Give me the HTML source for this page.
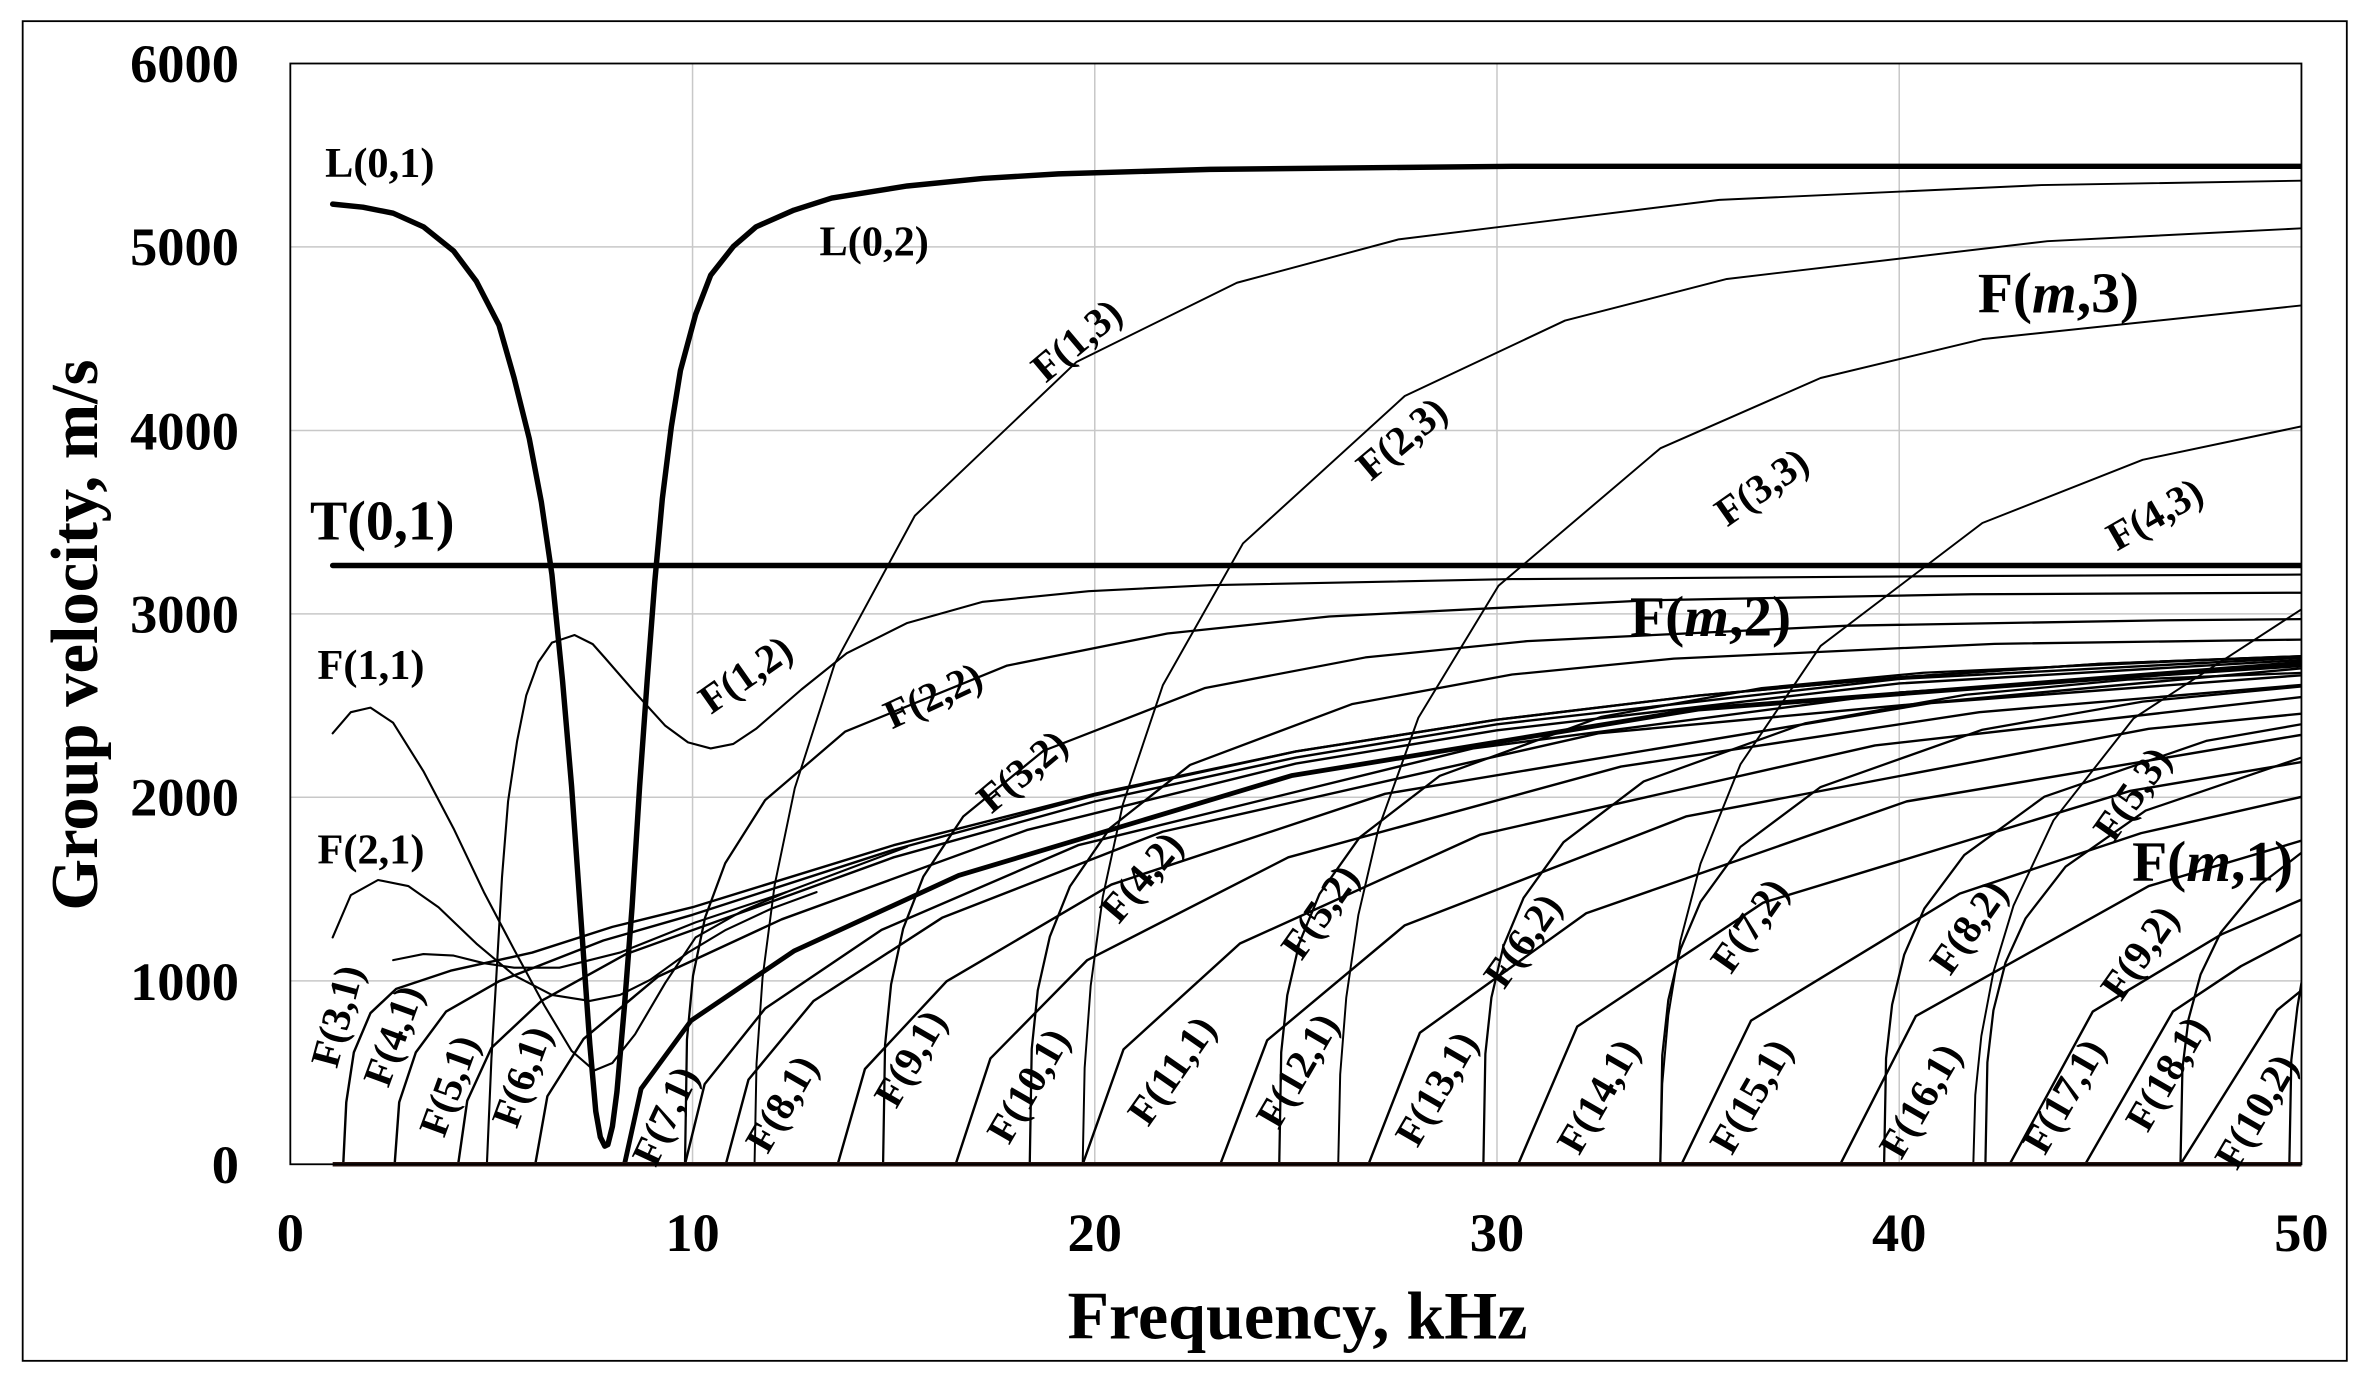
<!DOCTYPE html>
<html><head><meta charset="utf-8"><style>
html,body{margin:0;padding:0;background:#fff;}
svg{display:block}
text{font-family:"Liberation Serif",serif;font-weight:bold;fill:#000}
polyline{fill:none;stroke:#000;stroke-linejoin:round;stroke-linecap:round}
</style></head><body>
<svg width="2371" height="1382" viewBox="0 0 1568 914" preserveAspectRatio="none" xmlns="http://www.w3.org/2000/svg">
<rect x="0" y="0" width="1568" height="914" fill="#fff"/>
<rect x="15" y="14" width="1537" height="886" fill="none" stroke="#000" stroke-width="1.2"/>
<g stroke="#c8c8c8" stroke-width="1">
<line x1="458" y1="42" x2="458" y2="770"/><line x1="724" y1="42" x2="724" y2="770"/><line x1="990" y1="42" x2="990" y2="770"/><line x1="1256" y1="42" x2="1256" y2="770"/>
<line x1="192" y1="163.3" x2="1522" y2="163.3"/><line x1="192" y1="284.7" x2="1522" y2="284.7"/><line x1="192" y1="406" x2="1522" y2="406"/><line x1="192" y1="527.3" x2="1522" y2="527.3"/><line x1="192" y1="648.7" x2="1522" y2="648.7"/>
</g>
<defs><clipPath id="cp"><rect x="192" y="42" width="1330" height="728"/></clipPath></defs>
<g clip-path="url(#cp)">
<g stroke-width="1.6">
<polyline points="227,770 229,729 234,696 245,670 262,654 298,642 352,630 405,613 458,600 591,559 724,525 857,497 990,476 1123,460 1256,448 1389,439 1522,434"/>
<polyline points="261,770 264,729 275,696 295,669 330,649 399,622 458,605 591,562 724,526 857,497 990,476 1123,460 1256,448 1389,439 1522,434"/>
<polyline points="303,770 309,728 325,693 358,662 414,631 525,591 591,567 724,530 857,501 990,479 1256,449 1522,435"/>
<polyline points="354,770 362,725 386,687 435,646 517,608 679,549 857,505 990,483 1256,452 1522,436.5"/>
<polyline points="453,770 466,717 506,667 583,615 713,559 974,495 1256,458 1522,440.5"/>
<polyline points="480,770 495,714 538,662 623,607 769,550 1057,485 1522,442"/>
<polyline points="554,770 572,707 626,649 735,585 916,525 1277,465 1522,446.6"/>
<polyline points="632,770 655,700 719,635 852,567 1072,507 1309,471 1522,453"/>
<polyline points="716,770 743,694 820,624 979,552 1240,493 1522,461"/>
<polyline points="807,770 838,688 929,612 1115,540 1421,482 1522,472"/>
<polyline points="905,770 939,683 1049,604 1261,530 1522,486"/>
<polyline points="1004,770 1043,679 1166,597 1409,523 1522,504"/>
<polyline points="1112,770 1158,675 1296,591 1416,551 1522,527"/>
<polyline points="1217,770 1267,672 1421,586 1522,556"/>
<polyline points="1329,770 1384,669 1469,618 1522,595"/>
<polyline points="1379,770 1437,669 1482,639 1522,618"/>
<polyline points="1442,770 1506,668 1522,655"/>
</g>
<polyline stroke-width="3.2" points="413,770 424,720 457,675 525,629 634,579 854,513 1123,469 1522,438.6"/>
<g stroke-width="1.5">
<polyline points="453,770 454.3,687.5 458.3,645.4 466.3,606.8 479.6,570.9 506,529.2 559,483.8 666,440.2 772,419 879,407.7 1091,397 1304,393 1522,392"/>
<polyline points="584,770 585.3,691.2 589.3,651 597.3,614.1 610.6,579.8 637,540 690,496.6 797,455 903,434.8 1010,424 1222,413.8 1435,410.2 1522,409.5"/>
<polyline points="681,770 682.3,693.8 686.3,655 694.3,619.4 707.6,586.2 734,547.8 787,505.9 894,465.7 1000,446.1 1107,435.6 1319,425.8 1522,423"/>
<polyline points="846,770 847.3,696 851.3,658.2 859.3,623.6 872.6,591.3 899,554 952,513.2 1059,474.1 1165,455.1 1272,444.9 1484,435.4 1522,434.6"/>
<polyline points="981,770 982.3,697 986.3,659.8 994.3,625.6 1007.6,593.8 1034,557 1087,516.8 1194,478.3 1300,459.5 1407,449.5 1522,445"/>
<polyline points="1098,770 1099.3,698 1103.3,661.4 1111.3,627.8 1124.6,596.4 1151,560.1 1204,520.5 1311,482.6 1417,464 1522,454"/>
<polyline points="1246,770 1247.3,699.9 1251.3,664.4 1259.3,631.4 1272.6,600.9 1299,565.5 1352,526.9 1459,490 1522,479"/>
<polyline points="1313,770 1314.3,702.6 1318.3,668.2 1326.3,636.6 1339.6,607.3 1366,573.2 1419,536.1 1522,501"/>
<polyline points="1442,770 1443.3,706.5 1447.3,674.2 1455.3,644.5 1468.6,616.8 1495,584.8 1522,564"/>
<polyline points="1514,770 1515.3,701.2 1519.3,666.4 1522,650"/>
</g>
<g stroke-width="1.3">
<polyline points="499,770 500.3,703.4 504.3,646.6 512.3,585.3 525.6,521.3 552,439 605,341.1 712,239.3 818,187 925,158.3 1137,132.2 1350,122.4 1522,119.5"/>
<polyline points="716,770 717.3,706.3 721.3,651.9 729.3,593.2 742.6,531.9 769,453.2 822,359.4 929,261.9 1035,212 1142,184.5 1354,159.5 1522,151"/>
<polyline points="885,770 886.3,710.6 890.3,659.9 898.3,605.2 911.6,548.1 938,474.7 991,387.4 1098,296.5 1204,250 1311,224.3 1522,202"/>
<polyline points="1098,770 1099.3,716.8 1103.3,671.4 1111.3,622.2 1124.6,571.2 1151,505.5 1204,427.2 1311,345.9 1417,304.1 1522,282"/>
<polyline points="1305,770 1306.3,724.2 1310.3,685.2 1318.3,642.9 1331.6,598.9 1358,542.6 1411,475.1 1522,403"/>
</g>
<g stroke-width="1.4">
<polyline points="322,770 325,700 328,650 332,580 336,530 342,490 348,460 356,438 365,425 380,420 392,426 400,435 420,458 440,480 455,491 470,495 485,492 500,482 530,456 560,432 600,412 650,398 720,391 800,387 1000,383 1300,381 1522,380"/>
<polyline points="220,485 232,471 245,468 260,478 280,510 300,548 320,590 340,628 360,665 378,695 393,708 405,703 420,684 440,650 460,620 490,603 520,590 600,560"/>
<polyline points="220,620 232,592 250,582 270,586 290,600 315,624 340,645 365,658 390,662 410,658 430,648 455,630 480,615 510,601 540,590"/>
<polyline points="260,635 280,631 300,632 320,637 340,640 370,640 410,630 460,610 520,590"/>
</g>
<polyline stroke-width="3.6" points="220,135 240,137 260,141 280,150 300,166 315,186 330,215 340,250 350,290 358,332 365,380 372,450 378,520 384,605 390,690 394,735 397,752 400,758 402,757 405,745 408,722 413,665 418,600 423,520 428,450 433,385 438,330 444,282 450,245 460,208 470,182 485,163 500,150 525,139 550,131 600,123 650,118 700,115 800,112 1000,110 1522,110"/>
<polyline stroke-width="3.6" points="220,374 1522,374"/>
</g>
<line x1="220" y1="770" x2="1522" y2="770" stroke="#2a1410" stroke-width="3"/>
<rect x="192" y="42" width="1330" height="728" fill="none" stroke="#000" stroke-width="1.2"/>
<g font-size="36" text-anchor="end" dominant-baseline="central">
<text x="158" y="42">6000</text><text x="158" y="163">5000</text><text x="158" y="285">4000</text><text x="158" y="406">3000</text><text x="158" y="527">2000</text><text x="158" y="649">1000</text><text x="158" y="770">0</text>
</g>
<g font-size="36" text-anchor="middle" dominant-baseline="central">
<text x="192" y="815">0</text><text x="458" y="815">10</text><text x="724" y="815">20</text><text x="990" y="815">30</text><text x="1256" y="815">40</text><text x="1522" y="815">50</text>
</g>
<text x="858" y="870" font-size="45" text-anchor="middle" dominant-baseline="central">Frequency, kHz</text>
<text transform="translate(50,420) rotate(-90)" font-size="44" text-anchor="middle" dominant-baseline="central">Group velocity, m/s</text>
<g font-size="28" dominant-baseline="central">
<text x="215" y="108">L(0,1)</text>
<text x="542" y="160">L(0,2)</text>
<text x="205" y="345" font-size="37">T(0,1)</text>
<text x="210" y="440">F(1,1)</text>
<text x="210" y="562">F(2,1)</text>
<text x="1308" y="194" font-size="38">F(<tspan font-style="italic">m</tspan>,3)</text>
<text x="1078" y="408" font-size="38">F(<tspan font-style="italic">m</tspan>,2)</text>
<text x="1410" y="570" font-size="38">F(<tspan font-style="italic">m</tspan>,1)</text>
</g>
<g font-size="27" text-anchor="middle" dominant-baseline="central">
<text transform="translate(712,225) rotate(-40)">F(1,3)</text>
<text transform="translate(927,290) rotate(-40)">F(2,3)</text>
<text transform="translate(1165,322) rotate(-35)">F(3,3)</text>
<text transform="translate(1425,340) rotate(-30)">F(4,3)</text>
<text transform="translate(493,446) rotate(-35)">F(1,2)</text>
<text transform="translate(617,460) rotate(-25)">F(2,2)</text>
<text transform="translate(676,510) rotate(-40)">F(3,2)</text>
<text transform="translate(755,580) rotate(-50)">F(4,2)</text>
<text transform="translate(873,603) rotate(-55)">F(5,2)</text>
<text transform="translate(1007,622) rotate(-55)">F(6,2)</text>
<text transform="translate(1157,612) rotate(-55)">F(7,2)</text>
<text transform="translate(1302,613) rotate(-55)">F(8,2)</text>
<text transform="translate(1410,525) rotate(-55)">F(5,3)</text>
<text transform="translate(1415,630) rotate(-55)">F(9,2)</text>
<text transform="translate(1492,735) rotate(-60)">F(10,2)</text>
<text transform="translate(223,672) rotate(-75)">F(3,1)</text>
<text transform="translate(260,685) rotate(-70)">F(4,1)</text>
<text transform="translate(297,718) rotate(-70)">F(5,1)</text>
<text transform="translate(345,712) rotate(-70)">F(6,1)</text>
<text transform="translate(440,738) rotate(-65)">F(7,1)</text>
<text transform="translate(517,730) rotate(-60)">F(8,1)</text>
<text transform="translate(602,700) rotate(-60)">F(9,1)</text>
<text transform="translate(680,718) rotate(-60)">F(10,1)</text>
<text transform="translate(775,708) rotate(-55)">F(11,1)</text>
<text transform="translate(858,708) rotate(-60)">F(12,1)</text>
<text transform="translate(950,720) rotate(-60)">F(13,1)</text>
<text transform="translate(1057,725) rotate(-60)">F(14,1)</text>
<text transform="translate(1158,725) rotate(-60)">F(15,1)</text>
<text transform="translate(1270,728) rotate(-60)">F(16,1)</text>
<text transform="translate(1365,725) rotate(-60)">F(17,1)</text>
<text transform="translate(1433,710) rotate(-60)">F(18,1)</text>
</g>
</svg>
</body></html>
